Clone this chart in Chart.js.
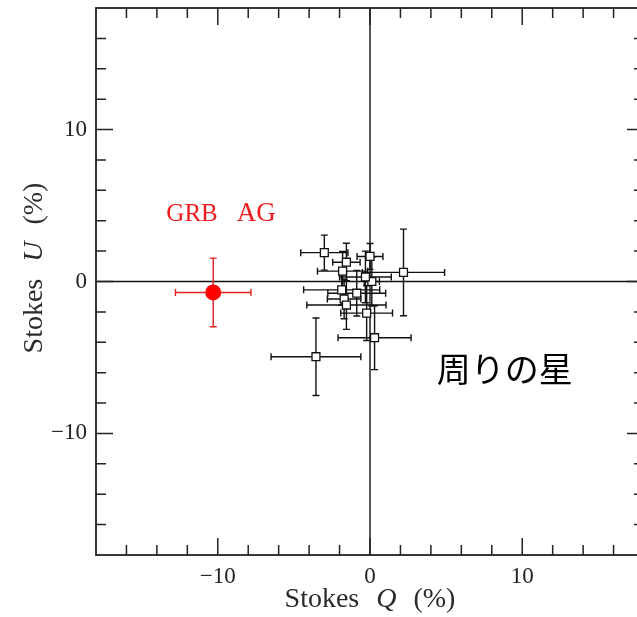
<!DOCTYPE html>
<html>
<head>
<meta charset="utf-8">
<script src="https://cdn.jsdelivr.net/npm/chart.js@4/dist/chart.umd.min.js"></script>
<style>
  html, body { margin: 0; padding: 0; overflow: hidden; background: #fff; }
</style>
</head>
<body>
<canvas id="my-chart" width="652" height="617"></canvas>
<script>
'use strict';

// field stars: Stokes Q, U and their errors (%)
let starQ = [-3.0, 0.0, -1.55, 2.2, -1.8, 0.12, -0.3, -1.86, -0.87, -1.7, -1.55, -0.22, 0.3, -3.55];
let starU = [1.9, 1.65, 1.27, 0.6, 0.68, 0.0, 0.3, -0.55, -0.77, -1.15, -1.55, -2.08, -3.7, -4.95];
let starQErr = [1.55, 0.85, 0.9, 2.7, 1.65, 0.5, 1.7, 2.5, 1.9, 1.1, 2.6, 1.7, 2.4, 2.95];
let starUErr = [1.15, 0.85, 1.25, 2.85, 1.3, 1.6, 1.7, 1.0, 1.5, 1.3, 1.6, 1.8, 2.1, 2.55];

// GRB afterglow
let grbQ = [-10.3];
let grbU = [-0.72];
let grbQErr = [2.48];
let grbUErr = [2.26];

let axisMin = -18;
let axisMax = 18;
let labelTicks = [-10, 0, 10];

let canvasElem = document.getElementById('my-chart');

function toPoints(xs, ys) {
  let pts = [];
  for (let i = 0; i < xs.length; i++) {
    pts.push({ x: xs[i], y: ys[i] });
  }
  return pts;
}

function fmtTick(v) {
  if (labelTicks.indexOf(v) === -1) return '';
  return v < 0 ? '\u2212' + Math.abs(v) : String(v);
}

let serif = '"Liberation Serif", "DejaVu Serif", serif';

let errorBars = {
  id: 'errorBars',
  beforeDatasetsDraw(chart) {
    let ctx = chart.ctx;
    let xs = chart.scales.x;
    let ys = chart.scales.y;
    let area = chart.chartArea;
    ctx.save();
    // zero lines
    ctx.strokeStyle = '#111';
    ctx.lineWidth = 1.4;
    ctx.beginPath();
    ctx.moveTo(xs.getPixelForValue(0), area.top);
    ctx.lineTo(xs.getPixelForValue(0), area.bottom);
    ctx.moveTo(area.left, ys.getPixelForValue(0));
    ctx.lineTo(area.right, ys.getPixelForValue(0));
    ctx.stroke();

    chart.data.datasets.forEach(function (ds) {
      ctx.strokeStyle = ds.errColor;
      ctx.lineWidth = 1.4;
      let cap = 3.5;
      ds.data.forEach(function (p, i) {
        let px = xs.getPixelForValue(p.x);
        let py = ys.getPixelForValue(p.y);
        let x0 = xs.getPixelForValue(p.x - ds.qErr[i]);
        let x1 = xs.getPixelForValue(p.x + ds.qErr[i]);
        let y0 = ys.getPixelForValue(p.y - ds.uErr[i]);
        let y1 = ys.getPixelForValue(p.y + ds.uErr[i]);
        ctx.beginPath();
        ctx.moveTo(x0, py); ctx.lineTo(x1, py);
        ctx.moveTo(x0, py - cap); ctx.lineTo(x0, py + cap);
        ctx.moveTo(x1, py - cap); ctx.lineTo(x1, py + cap);
        ctx.moveTo(px, y0); ctx.lineTo(px, y1);
        ctx.moveTo(px - cap, y0); ctx.lineTo(px + cap, y0);
        ctx.moveTo(px - cap, y1); ctx.lineTo(px + cap, y1);
        ctx.stroke();
      });
    });
    ctx.restore();
  },
  afterDraw(chart) {
    let ctx = chart.ctx;
    let xs = chart.scales.x;
    let ys = chart.scales.y;
    let area = chart.chartArea;
    ctx.save();
    // frame
    ctx.strokeStyle = '#222';
    ctx.lineWidth = 1.8;
    ctx.strokeRect(area.left, area.top, area.right - area.left, area.bottom - area.top);
    // inward ticks on all four sides
    ctx.lineWidth = 1.5;
    ctx.beginPath();
    for (let v = -16; v <= 16; v += 2) {
      let len = (v % 10 === 0) ? 17 : 10;
      let px = xs.getPixelForValue(v);
      let py = ys.getPixelForValue(v);
      ctx.moveTo(px, area.bottom); ctx.lineTo(px, area.bottom - len);
      ctx.moveTo(px, area.top); ctx.lineTo(px, area.top + len);
      ctx.moveTo(area.left, py); ctx.lineTo(area.left + len, py);
      ctx.moveTo(area.right, py); ctx.lineTo(area.right - len, py);
    }
    ctx.stroke();

    // axis titles with italic symbol
    function drawTitle(parts, cx, baseY) {
      let gap = 17;
      let widths = parts.map(function (p) {
        ctx.font = p[1] + ' 28px ' + serif;
        return ctx.measureText(p[0]).width;
      });
      let total = widths.reduce(function (a, b) { return a + b; }, 0) + gap * (parts.length - 1);
      let x = cx - total / 2;
      ctx.textBaseline = 'alphabetic';
      ctx.textAlign = 'left';
      parts.forEach(function (p, i) {
        ctx.font = p[1] + ' 28px ' + serif;
        ctx.fillText(p[0], x, baseY);
        x += widths[i] + gap;
      });
    }
    ctx.fillStyle = '#2a2a2a';
    drawTitle([['Stokes', 'normal'], ['Q', 'italic'], ['(%)', 'normal']], 370, 607);
    ctx.save();
    ctx.translate(42, 268);
    ctx.rotate(-Math.PI / 2);
    drawTitle([['Stokes', 'normal'], ['U', 'italic'], ['(%)', 'normal']], 0, 0);
    ctx.restore();

    // annotations
    ctx.fillStyle = '#ee1c1c';
    ctx.font = '25px ' + serif;
    ctx.textAlign = 'left';
    ctx.fillText('GRB', xs.getPixelForValue(-13.38), ys.getPixelForValue(3.95));
    ctx.font = '27px ' + serif;
    ctx.fillText('AG', xs.getPixelForValue(-8.75), ys.getPixelForValue(3.95));

    ctx.fillStyle = '#000';
    ctx.font = '34px "Noto Sans CJK JP", sans-serif';
    ctx.textAlign = 'center';
    ctx.textBaseline = 'middle';
    ctx.fillText('周りの星', xs.getPixelForValue(8.85), ys.getPixelForValue(-5.75));
    ctx.restore();
  }
};

function noPad(scale) {
  scale.paddingTop = 0;
  scale.paddingBottom = 0;
  scale.paddingLeft = 0;
  scale.paddingRight = 0;
}

function renderChart() {
  let chartObj = {
    type: 'scatter',
    data: {
      datasets: [{
        label: 'stars',
        data: toPoints(starQ, starU),
        qErr: starQErr,
        uErr: starUErr,
        errColor: '#111',
        pointStyle: 'rect',
        pointRadius: 5.6,
        pointHoverRadius: 5.6,
        backgroundColor: '#fff',
        borderColor: '#111',
        borderWidth: 1.3
      },
      {
        label: 'GRB AG',
        data: toPoints(grbQ, grbU),
        qErr: grbQErr,
        uErr: grbUErr,
        errColor: '#e02020',
        pointStyle: 'circle',
        pointRadius: 8,
        pointHoverRadius: 8,
        backgroundColor: '#ff0000',
        borderColor: '#ff0000',
        borderWidth: 0
      }]
    },
    options: {
      responsive: false,
      animation: false,
      devicePixelRatio: 1,
      layout: { padding: { top: 7, right: 0, left: 0, bottom: 0 } },
      plugins: {
        legend: { display: false },
        tooltip: { enabled: false }
      },
      scales: {
        x: {
          type: 'linear',
          min: axisMin,
          max: axisMax,
          grid: { display: false, drawTicks: false },
          border: { display: false },
          afterFit: function (scale) { scale.height = 62; noPad(scale); },
          ticks: {
            stepSize: 2,
            autoSkip: false,
            maxRotation: 0,
            padding: 8,
            color: '#222',
            font: { family: serif, size: 23 },
            callback: fmtTick
          }
        },
        y: {
          type: 'linear',
          min: axisMin,
          max: axisMax,
          grid: { display: false, drawTicks: false },
          border: { display: false },
          afterFit: function (scale) { scale.width = 96; noPad(scale); },
          ticks: {
            stepSize: 2,
            autoSkip: false,
            padding: 9,
            color: '#222',
            font: { family: serif, size: 23 },
            callback: fmtTick
          }
        }
      }
    },
    plugins: [errorBars]
  };

  new Chart(canvasElem, chartObj); //eslint-disable-line
}

renderChart();
</script>
</body>
</html>
